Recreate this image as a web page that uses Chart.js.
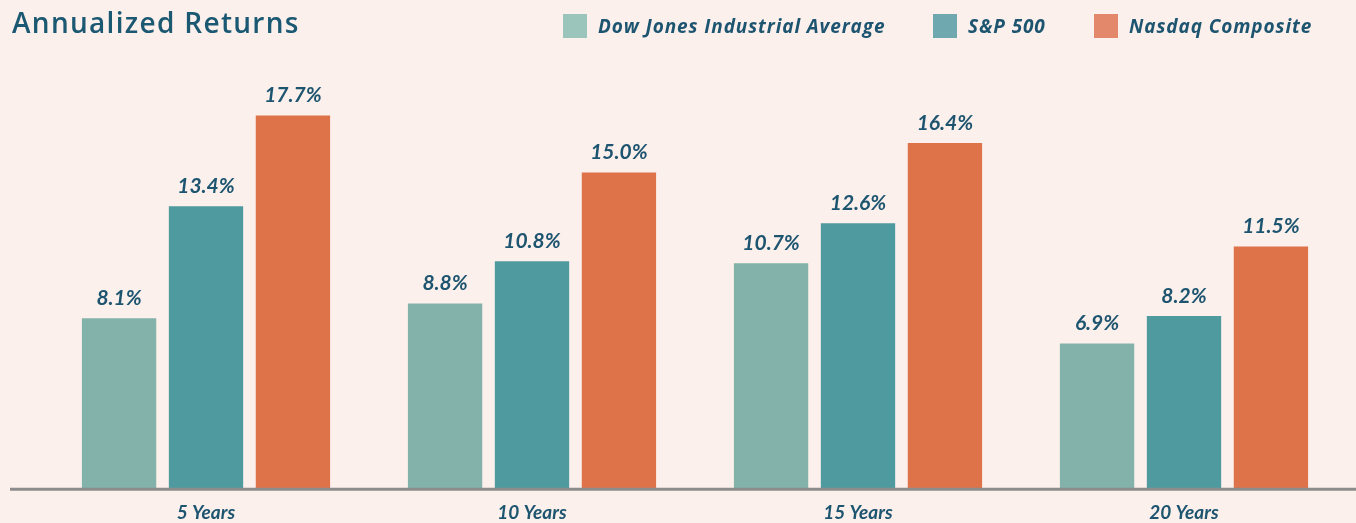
<!DOCTYPE html>
<html>
<head>
<meta charset="utf-8">
<script src="https://cdn.jsdelivr.net/npm/chart.js@4"></script>
<style>
  html, body { margin: 0; padding: 0; background: #fcf0ec; }
  #wrap { position: relative; width: 1356px; height: 523px; overflow: hidden; }
  #title {
    position: absolute; left: 12px; top: 3px;
    font-family: "Open Sans", sans-serif; font-weight: 600; font-size: 28px;
    color: #1b5872; letter-spacing: 1.3px;
  }
  .item {
    position: absolute; top: 13px; height: 25px;
    display: flex; align-items: center;
    font-family: "Open Sans", sans-serif; font-style: italic; font-weight: 700;
    font-size: 19px; letter-spacing: 0.9px; color: #1d5570; white-space: nowrap;
  }
  .swatch { width: 24px; height: 24px; margin-right: 11px; }
  canvas { display: block; }
</style>
</head>
<body>
<div id="wrap">
  <div id="title">Annualized Returns</div>
  <div id="legend"></div>
  <canvas id="myChart" width="1356" height="523"></canvas>
</div>
<script>
// chart data
const periods = ["5 Years", "10 Years", "15 Years", "20 Years"];
const dowValues = [8.1, 8.8, 10.7, 6.9];
const spValues = [13.4, 10.8, 12.6, 8.2];
const nasdaqValues = [17.7, 15.0, 16.4, 11.5];
const seriesNames = ["Dow Jones Industrial Average", "S&P 500", "Nasdaq Composite"];

const barColors = ["#83b2ab", "#4f9a9f", "#de734a"];
const legendColors = ["#9bc4ba", "#6fa8ae", "#e3886a"];
const legendLeft = [563, 933, 1094];
const textColor = "#1d5570";

// draws the value above each bar
const valueLabels = {
  id: "valueLabels",
  afterDatasetsDraw(chart) {
    const ctx = chart.ctx;
    ctx.save();
    ctx.fillStyle = textColor;
    ctx.font = "italic bold 21px Lato";
    ctx.textAlign = "center";
    ctx.textBaseline = "middle";
    chart.data.datasets.forEach((ds, i) => {
      chart.getDatasetMeta(i).data.forEach((bar, j) => {
        ctx.fillText(ds.data[j].toFixed(1) + "%", bar.x, bar.y - 20);
      });
    });
    ctx.restore();
  },
};

// baseline across the whole width
const baseLine = {
  id: "baseLine",
  afterDatasetsDraw(chart) {
    const ctx = chart.ctx;
    const y = chart.scales.y.getPixelForValue(0);
    ctx.save();
    ctx.strokeStyle = "#8c8c8c";
    ctx.lineWidth = 3;
    ctx.beginPath();
    ctx.moveTo(10, y);
    ctx.lineTo(chart.width, y);
    ctx.stroke();
    ctx.restore();
  },
};

const chartData = {
  labels: periods,
  datasets: [
    { label: seriesNames[0], data: dowValues, backgroundColor: barColors[0] },
    { label: seriesNames[1], data: spValues, backgroundColor: barColors[1] },
    { label: seriesNames[2], data: nasdaqValues, backgroundColor: barColors[2] },
  ],
};

const config = {
  type: "bar",
  data: chartData,
  options: {
    responsive: false,
    animation: false,
    categoryPercentage: 0.8,
    barPercentage: 0.855,
    layout: {
      padding: { left: 43, right: 9, top: 67, bottom: -5 },
    },
    scales: {
      y: {
        display: false,
        min: 0,
        max: 20,
      },
      x: {
        grid: { display: false },
        border: { display: false },
        ticks: {
          color: textColor,
          padding: 4,
          font: { family: "Lato", size: 19, style: "italic", weight: "bold" },
        },
      },
    },
    plugins: {
      legend: { display: false },
      title: { display: false },
      tooltip: { enabled: false },
    },
  },
  plugins: [baseLine, valueLabels],
};

const myChart = new Chart(document.getElementById("myChart"), config);

// legend row built from the same series
const legendBox = document.getElementById("legend");
seriesNames.forEach((name, i) => {
  const item = document.createElement("div");
  item.className = "item";
  item.style.left = legendLeft[i] + "px";
  const swatch = document.createElement("span");
  swatch.className = "swatch";
  swatch.style.background = legendColors[i];
  const label = document.createElement("span");
  label.textContent = name;
  item.appendChild(swatch);
  item.appendChild(label);
  legendBox.appendChild(item);
});
</script>
</body>
</html>
